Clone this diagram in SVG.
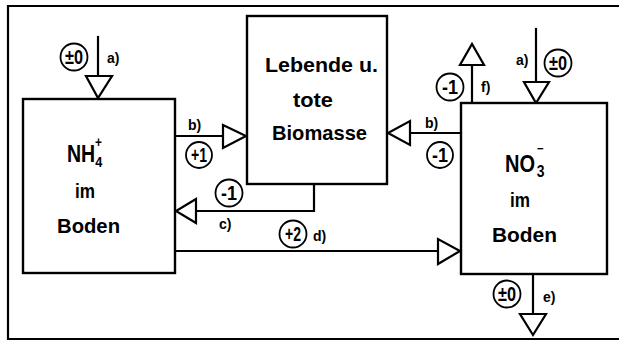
<svg xmlns="http://www.w3.org/2000/svg" width="619" height="347" viewBox="0 0 619 347">
<style>
.ln{fill:none;stroke:#000;stroke-width:2.2;stroke-linecap:square}
.box{fill:#fff;stroke:#000;stroke-width:2.4}
.tri{fill:#fff;stroke:#000;stroke-width:2.2;stroke-linejoin:miter}
.cir{fill:#fff;stroke:#000;stroke-width:1.8}
.t{font-family:"Liberation Sans",Arial,sans-serif;fill:#000;font-weight:bold}
.big{font-size:21px}
.lab{font-size:14px}
.ct{font-size:20px;text-anchor:middle}
</style>
<rect width="619" height="347" fill="#fff"/>
<g id="frame">
<path class="ln" d="M619 6 H8 V339 H619"/>
</g>
<g id="connectors">
<g id="a-nh4">
<line class="ln" x1="98" y1="37" x2="98" y2="76"/>
<polygon class="tri" points="86,76 112,76 98,98"/>
<circle class="cir" cx="74" cy="57" r="13.5"/>
<text class="t ct" x="74" y="64" textLength="18" lengthAdjust="spacingAndGlyphs">±0</text>
<text class="t lab" x="107" y="63">a)</text>
</g>
<g id="b-left">
<line class="ln" x1="176" y1="136" x2="223" y2="136"/>
<polygon class="tri" points="223,125 223,148 246,136"/>
<text class="t lab" x="188" y="130">b)</text>
<circle class="cir" cx="199" cy="155" r="13"/>
<text class="t ct" x="199" y="162" textLength="16" lengthAdjust="spacingAndGlyphs">+1</text>
</g>
<g id="c">
<path class="ln" d="M314 184 V211 H196"/>
<polygon class="tri" points="196,199 196,223 176,211"/>
<circle class="cir" cx="229" cy="193" r="13.5"/>
<text class="t ct" x="229" y="200" textLength="16" lengthAdjust="spacingAndGlyphs">-1</text>
<text class="t lab" x="219" y="229">c)</text>
</g>
<g id="d">
<line class="ln" x1="176" y1="251" x2="438" y2="251"/>
<polygon class="tri" points="438,239 438,264 460,251"/>
<circle class="cir" cx="293" cy="234" r="13.5"/>
<text class="t ct" x="293" y="241" textLength="16" lengthAdjust="spacingAndGlyphs">+2</text>
<text class="t lab" x="313" y="241">d)</text>
</g>
<g id="b-right">
<line class="ln" x1="410" y1="133" x2="460" y2="133"/>
<polygon class="tri" points="410,121 410,145 388,133"/>
<text class="t lab" x="425" y="128">b)</text>
<circle class="cir" cx="440" cy="155" r="13"/>
<text class="t ct" x="440" y="162" textLength="16" lengthAdjust="spacingAndGlyphs">-1</text>
</g>
<g id="f">
<line class="ln" x1="472" y1="103" x2="472" y2="65"/>
<polygon class="tri" points="460,65 484,65 472,44"/>
<circle class="cir" cx="450" cy="87" r="13.5"/>
<text class="t ct" x="450" y="94" textLength="16" lengthAdjust="spacingAndGlyphs">-1</text>
<text class="t lab" x="481" y="92">f)</text>
</g>
<g id="a-no3">
<line class="ln" x1="536" y1="29" x2="536" y2="82"/>
<polygon class="tri" points="524,82 549,82 536,103"/>
<circle class="cir" cx="558" cy="63" r="13.5"/>
<text class="t ct" x="558" y="70" textLength="18" lengthAdjust="spacingAndGlyphs">±0</text>
<text class="t lab" x="516" y="65">a)</text>
</g>
<g id="e">
<line class="ln" x1="533" y1="274" x2="533" y2="314"/>
<polygon class="tri" points="520,314 546,314 533,335"/>
<circle class="cir" cx="507" cy="294" r="13.5"/>
<text class="t ct" x="507" y="301" textLength="18" lengthAdjust="spacingAndGlyphs">±0</text>
<text class="t lab" x="543" y="302">e)</text>
</g>
</g>
<g id="biomasse">
<rect class="box" x="247" y="16" width="140" height="168"/>
<text class="t big" x="265" y="72" textLength="113" lengthAdjust="spacingAndGlyphs">Lebende u.</text>
<text class="t big" x="293" y="107" textLength="40" lengthAdjust="spacingAndGlyphs">tote</text>
<text class="t big" x="272" y="140" textLength="95" lengthAdjust="spacingAndGlyphs">Biomasse</text>
</g>
<g id="nh4">
<rect class="box" x="23" y="99" width="152" height="174"/>
<text class="t" style="font-size:23px" transform="translate(67 162) scale(0.85 1)">NH<tspan style="font-size:15px" dy="5">4</tspan><tspan style="font-size:14px" dx="-8.5" dy="-20">+</tspan></text>
<text class="t big" x="75" y="198" textLength="20" lengthAdjust="spacingAndGlyphs">im</text>
<text class="t big" x="57" y="233" textLength="63" lengthAdjust="spacingAndGlyphs">Boden</text>
</g>
<g id="no3">
<rect class="box" x="461" y="103" width="146" height="171"/>
<text class="t" style="font-size:23px" transform="translate(505 172) scale(0.87 1)">NO<tspan style="font-size:16px" dx="2" dy="5">3</tspan><tspan style="font-size:13px" dx="-8.5" dy="-24">−</tspan></text>
<text class="t big" x="510" y="207" textLength="20" lengthAdjust="spacingAndGlyphs">im</text>
<text class="t big" x="492" y="242" textLength="65" lengthAdjust="spacingAndGlyphs">Boden</text>
</g>
</svg>
